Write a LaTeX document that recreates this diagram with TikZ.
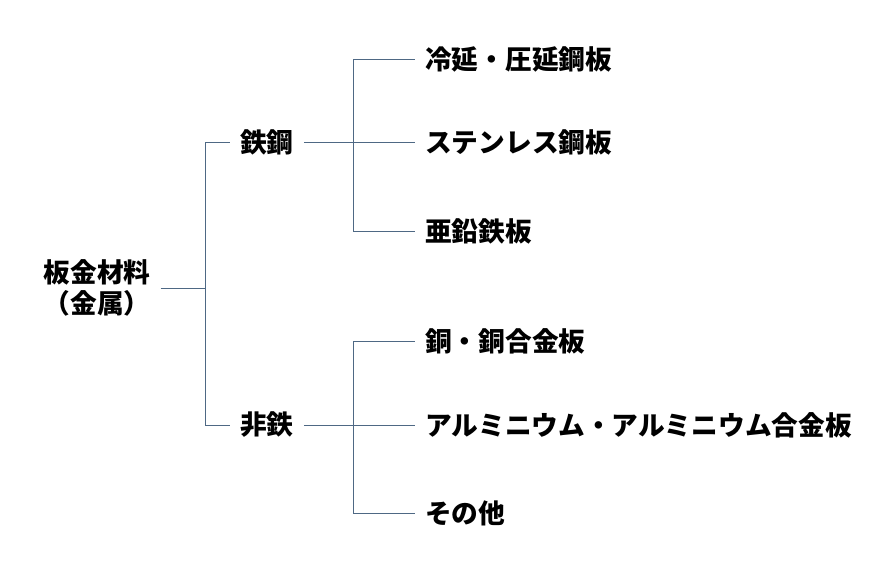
\documentclass[tikz,border=0pt]{standalone}
\usepackage{fontspec}
\setmainfont{Noto Sans CJK JP}
\definecolor{conncol}{RGB}{78,104,132}
\begin{document}
\begin{tikzpicture}[x=1pt,y=-1pt,
  lbl/.style={inner xsep=10pt,inner ysep=0pt,font=\fontsize{26.7}{31}\selectfont\bfseries,text=black},
  conn/.style={draw=conncol,line width=1pt}]
\useasboundingbox (0,0) rectangle (893,560);
% nodes
\node[lbl,align=center] (root) at (97,288) {板金材料\\（金属）};
\node[lbl,anchor=west] (fe) at (230,142) {鉄鋼};
\node[lbl,anchor=west] (nf) at (230,425) {非鉄};
\node[lbl,anchor=west] (s1) at (415,59) {冷延・圧延鋼板};
\node[lbl,anchor=west] (s2) at (415,142) {ステンレス鋼板};
\node[lbl,anchor=west] (s3) at (415,231) {亜鉛鉄板};
\node[lbl,anchor=west] (n1) at (415,341) {銅・銅合金板};
\node[lbl,anchor=west] (n2) at (415,425) {アルミニウム・アルミニウム合金板};
\node[lbl,anchor=west] (n3) at (415,513) {その他};
% junctions
\coordinate (j0) at (205,288);
\coordinate (j1) at (353,142);
\coordinate (j2) at (353,425);
% connectors
\draw[conn] (root.east |- j0) -- (j0);
\draw[conn] (j0) |- (fe.west);
\draw[conn] (j0) |- (nf.west);
\draw[conn] (fe.east) -- (s2.west);
\draw[conn] (j1) |- (s1.west);
\draw[conn] (j1) |- (s3.west);
\draw[conn] (nf.east) -- (n2.west);
\draw[conn] (j2) |- (n1.west);
\draw[conn] (j2) |- (n3.west);
\end{tikzpicture}
\end{document}
